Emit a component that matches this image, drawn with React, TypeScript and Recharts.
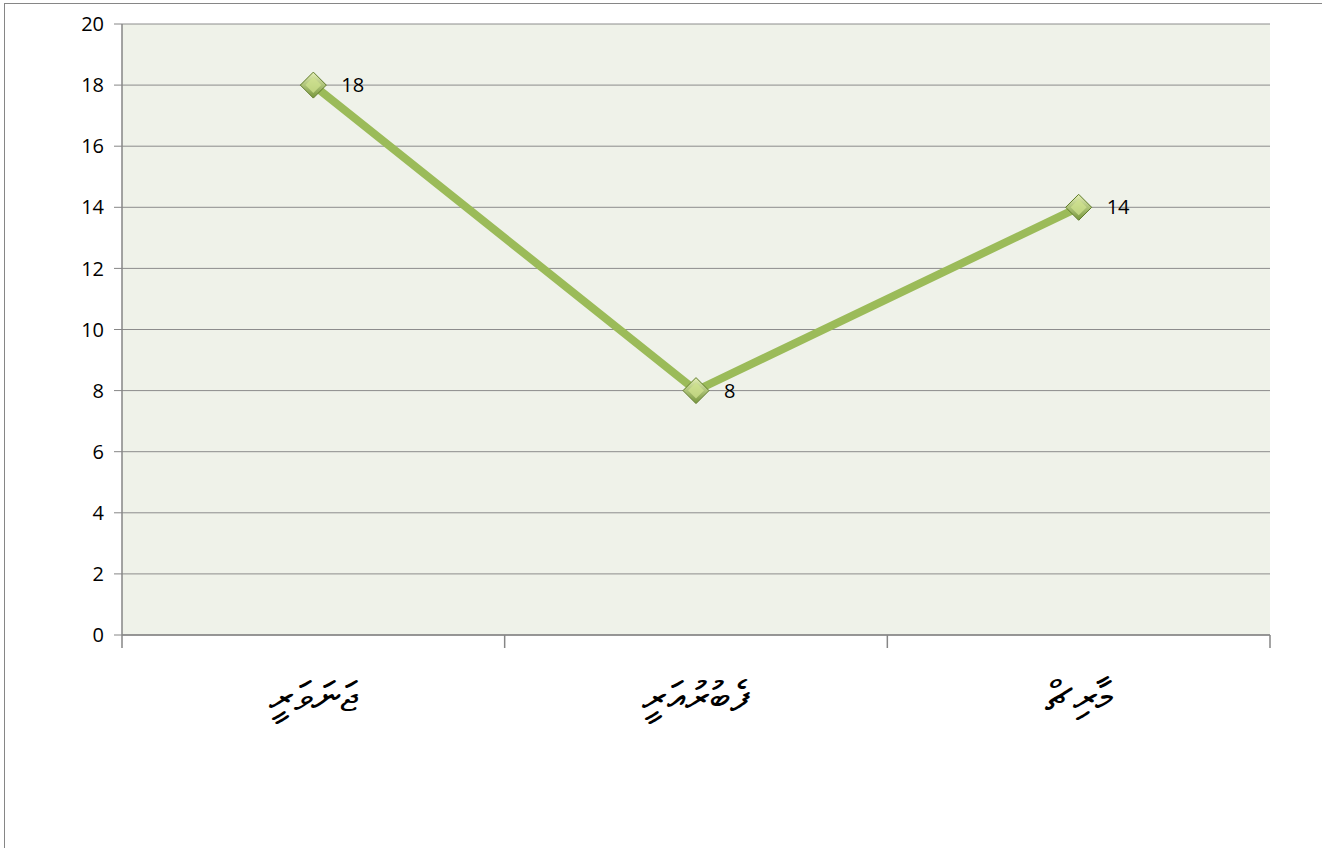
import { LineChart, Line, XAxis, YAxis, CartesianGrid, LabelList } from 'recharts';

const months = ['ޖަނަވަރީ', 'ފެބުރުއަރީ', 'މާރިޗް'];
const counts = [18, 8, 14];
const yTicks = [0, 2, 4, 6, 8, 10, 12, 14, 16, 18, 20];

// categories sit in the middle of each band, tick lines on the band edges
const data = months.map((m, i) => ({ pos: i + 0.5, month: m, value: counts[i] }));
const xTicks = [0, 0.5, 1, 1.5, 2, 2.5, 3];

const FONT = '"Open Sans", "Liberation Sans", sans-serif';

const XTick = ({ x, y, payload }: any) => {
  const v = payload.value;
  if (Number.isInteger(v)) {
    return <line x1={x} x2={x} y1={y - 8} y2={y + 5} stroke="#868686" strokeWidth={1.5} />;
  }
  return (
    <text x={x} y={y + 68} textAnchor="middle" fontSize={42} fill="#000" style={{ direction: 'rtl' }}>
      {months[Math.floor(v)]}
    </text>
  );
};

const Diamond = ({ cx, cy }: any) => {
  if (cx == null || cy == null) return null;
  const r = 13;
  return (
    <g>
      <polygon
        points={`${cx},${cy - r} ${cx + r},${cy} ${cx},${cy + r} ${cx - r},${cy}`}
        fill="url(#diamondFill)"
        stroke="#5F7B2A"
        strokeWidth={1}
      />
      <polygon
        points={`${cx},${cy - r + 5} ${cx + r - 5},${cy} ${cx},${cy + r - 5} ${cx - r + 5},${cy}`}
        fill="#CFE28E"
        opacity={0.75}
      />
    </g>
  );
};

export default function App() {
  return (
    <div style={{ position: 'absolute', left: 0, top: 0, width: 1322, height: 848, background: '#fff' }}>
      <div
        style={{
          position: 'absolute',
          left: 4,
          top: 3,
          width: 1320,
          height: 846,
          border: '1px solid #868686',
          boxSizing: 'border-box',
        }}
      />
      <div style={{ position: 'absolute', left: 0, top: 0 }}>
        <LineChart width={1322} height={848} data={data} margin={{ top: 24, right: 52, bottom: 153, left: 0 }}>
          <defs>
            <linearGradient id="diamondFill" x1="0" y1="0" x2="0" y2="1">
              <stop offset="0%" stopColor="#E6F0B8" />
              <stop offset="100%" stopColor="#76963A" />
            </linearGradient>
          </defs>
          <CartesianGrid vertical={false} stroke="#8C8C8C" strokeWidth={1} fill="#EFF2E9" />
          <XAxis
            dataKey="pos"
            type="number"
            domain={[0, 3]}
            ticks={xTicks}
            interval={0}
            axisLine={{ stroke: '#868686', strokeWidth: 1.5 }}
            tickLine={false}
            tick={<XTick />}
            height={60}
          />
          <YAxis
            domain={[0, 20]}
            ticks={yTicks}
            interval={0}
            width={122}
            axisLine={{ stroke: '#868686', strokeWidth: 1.5 }}
            tickLine={{ stroke: '#868686' }}
            tickSize={8}
            tick={{ fontSize: 20, fill: '#000', fontFamily: FONT }}
            tickMargin={10}
          />
          <Line
            dataKey="value"
            stroke="#9BBB59"
            strokeWidth={8}
            dot={<Diamond />}
            activeDot={false}
            isAnimationActive={false}
          >
            <LabelList
              dataKey="value"
              position="right"
              offset={28}
              style={{ fontSize: 20, fill: '#000', fontFamily: FONT }}
            />
          </Line>
        </LineChart>
      </div>
    </div>
  );
}
